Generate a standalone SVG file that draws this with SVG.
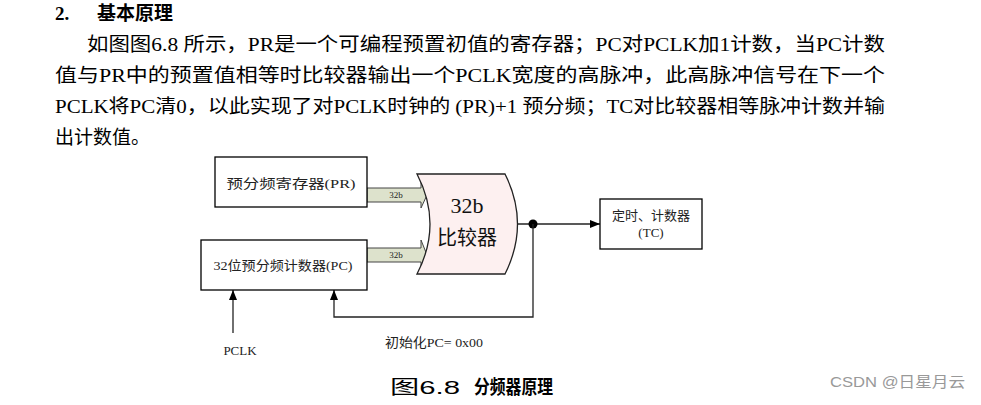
<svg xmlns="http://www.w3.org/2000/svg" width="981" height="405" viewBox="0 0 981 405">
<defs>
<style>
.body{font-family:"Liberation Serif","Noto Sans CJK SC",serif;font-size:19px;fill:#000}
.lbl{font-family:"Liberation Serif","Noto Sans CJK SC",serif;font-size:13px;fill:#222}
.box{fill:#fff;stroke:#000;stroke-width:1.3}
.bus{fill:#dde2cc;stroke:#444;stroke-width:1}
.wire{fill:none;stroke:#222;stroke-width:1.3}
.tiny{font-family:"Liberation Serif",serif;font-size:9px;fill:#222}
</style>
<marker id="ah2" viewBox="0 0 10 10" refX="10" refY="5" markerWidth="10" markerHeight="10" orient="auto" markerUnits="userSpaceOnUse">
<path d="M0,1 L10,5 L0,9 z" fill="#000"/>
</marker>
</defs>
<rect width="981" height="405" fill="#fff"/>
<g id="text-body">
<text class="body" x="55" y="20" font-weight="bold">2.</text>
<text class="body" x="97" y="20" font-weight="bold" textLength="76" lengthAdjust="spacingAndGlyphs">基本原理</text>
<text class="body" x="87" y="51" textLength="798" lengthAdjust="spacingAndGlyphs">如图图6.8 所示，PR是一个可编程预置初值的寄存器；PC对PCLK加1计数，当PC计数</text>
<text class="body" x="55" y="82" textLength="830" lengthAdjust="spacingAndGlyphs">值与PR中的预置值相等时比较器输出一个PCLK宽度的高脉冲，此高脉冲信号在下一个</text>
<text class="body" x="55" y="113" textLength="830" lengthAdjust="spacingAndGlyphs">PCLK将PC清0，以此实现了对PCLK时钟的 (PR)+1  预分频；TC对比较器相等脉冲计数并输</text>
<text class="body" x="55" y="144">出计数值。</text>
</g>
<g id="connectors">
<path class="bus" d="M367,188 H421 V180 L427,195 L421,208 V202 H367 z"/>
<text class="tiny" x="396" y="198" text-anchor="middle">32b</text>
<path class="bus" d="M367,248 H421 V240 L427,255 L421,270 V262 H367 z"/>
<text class="tiny" x="396" y="258" text-anchor="middle">32b</text>
<path class="wire" d="M518,224 H600" marker-end="url(#ah2)"/>
<circle cx="533" cy="224" r="4.5" fill="#000"/>
<path class="wire" d="M533,224 V317 H334 V290" marker-end="url(#ah2)"/>
<path class="wire" d="M233,333 V290" marker-end="url(#ah2)"/>
</g>
<g id="pr">
<rect class="box" x="215" y="157" width="152" height="50"/>
<text class="lbl" x="291" y="188" text-anchor="middle" font-size="15" textLength="129" lengthAdjust="spacingAndGlyphs">预分频寄存器(PR)</text>
</g>
<g id="pc">
<rect class="box" x="201" y="240" width="166" height="50"/>
<text class="lbl" x="283" y="270" text-anchor="middle" textLength="139" lengthAdjust="spacingAndGlyphs">32位预分频计数器(PC)</text>
</g>
<g id="comparator">
<path d="M417,174 H505 Q530,224 505,274 H417 Q443,224 417,174 z" fill="#fdf0f0" stroke="#222" stroke-width="1.3"/>
<text x="467" y="213" text-anchor="middle" font-family="Liberation Serif, serif" font-size="22" fill="#111">32b</text>
<text x="467" y="245" text-anchor="middle" font-family="Noto Sans CJK SC, sans-serif" font-size="20" fill="#111">比较器</text>
</g>
<g id="tc">
<rect class="box" x="600" y="199" width="102" height="50"/>
<text class="lbl" x="651" y="220" text-anchor="middle">定时、计数器</text>
<text class="lbl" x="651" y="237" text-anchor="middle">(TC)</text>
</g>
<g id="labels">
<text class="lbl" x="240" y="355" text-anchor="middle">PCLK</text>
<text class="lbl" x="385" y="347" textLength="98" lengthAdjust="spacingAndGlyphs">初始化PC= 0x00</text>
<text class="body" x="390" y="394" font-size="21" textLength="70" lengthAdjust="spacingAndGlyphs">图<tspan font-family="Liberation Sans, sans-serif">6.8</tspan></text>
<text x="474" y="394" font-family="Noto Sans CJK SC, sans-serif" font-size="19" font-weight="bold" fill="#000" textLength="79" lengthAdjust="spacingAndGlyphs">分频器原理</text>
<text x="830" y="387" font-family="Liberation Sans, Noto Sans CJK SC, sans-serif" font-size="15" fill="#999" textLength="135" lengthAdjust="spacingAndGlyphs">CSDN @日星月云</text>
</g>
</svg>
